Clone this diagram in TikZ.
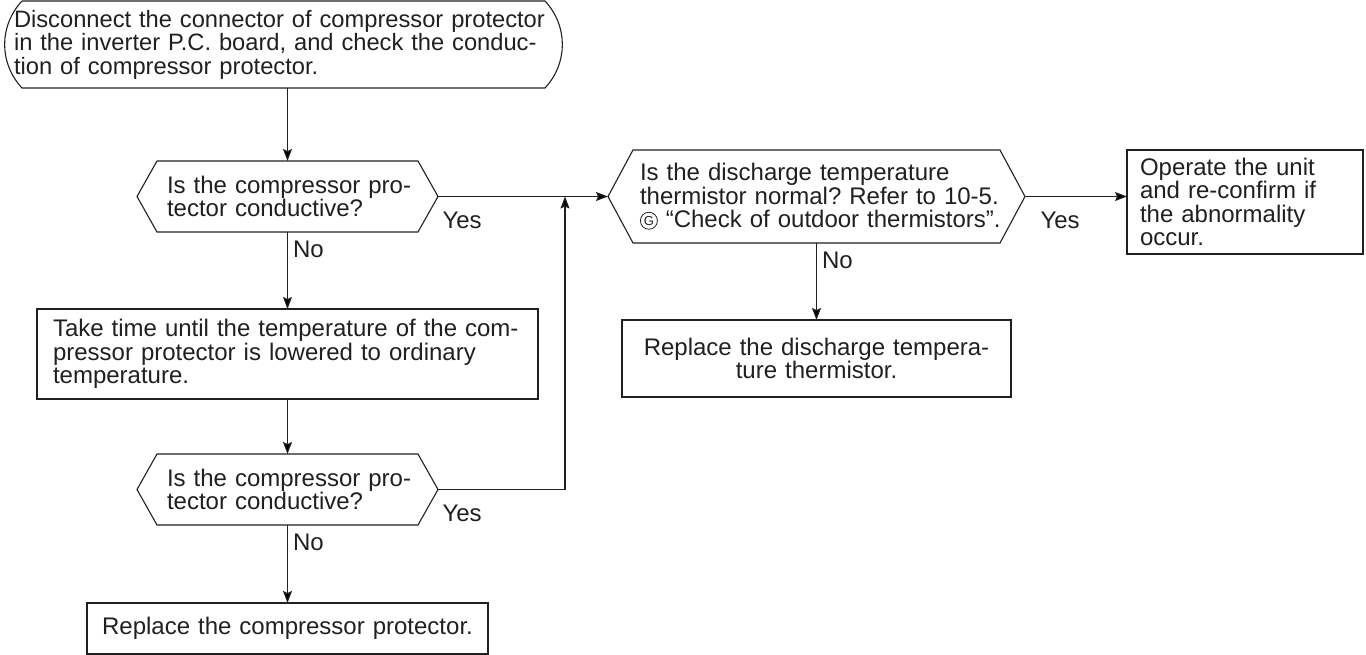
\documentclass[tikz,border=0pt]{standalone}
\usepackage{fontspec}
\setmainfont{Liberation Sans}
\usetikzlibrary{arrows.meta,calc}
\definecolor{ink}{RGB}{35,31,32}
\newcommand\li[1]{\mbox{#1}}
\newcommand\circG{\tikz[baseline={([yshift=1.5pt]g.south)}]\node[draw=ink,circle,inner sep=0pt,minimum size=17pt,line width=0.8pt,font=\fontsize{13}{13}\selectfont,text=ink](g){G};}
\newcommand\hexo[2]{\draw[outl] ([xshift=#2]#1.north west) -- ([xshift=-#2]#1.north east) -- (#1.east) -- ([xshift=-#2]#1.south east) -- ([xshift=#2]#1.south west) -- (#1.west) -- cycle;}
\tikzset{
  blk/.style={rectangle, outer sep=0pt, inner ysep=0pt, font=\fontsize{24}{23.5}\selectfont, text=ink},
  thinbox/.style={blk, draw=ink, line width=1.1pt},
  thickbox/.style={blk, draw=ink, line width=2.6pt},
  outl/.style={draw=ink, line width=1.1pt},
  arr/.style={draw=ink, line width=1.1pt, -{Stealth[length=12pt,width=9pt,inset=2pt]}},
  nolab/.style={pos=0, anchor=north west, inner sep=0pt, xshift=5pt, yshift=-8pt, font=\fontsize{24}{24}\selectfont, text=ink},
  yeslab/.style={pos=0, anchor=north west, inner sep=0pt, xshift=4pt, yshift=-15pt, font=\fontsize{24}{24}\selectfont, text=ink}
}
\begin{document}
\frenchspacing
\begin{tikzpicture}[x=1pt,y=-1pt]
\useasboundingbox (0,0) rectangle (1366,655);
% terminal
\node[blk, font=\fontsize{23.7}{23.5}\selectfont, text width=539pt, inner xsep=10pt, minimum height=87pt, align=left] (term) at (283.5,44.5)
  {\li{Disconnect the connector of compressor protector}\\\li{in the inverter P.C. board, and check the conduc-}\\\li{tion of compressor protector.}};
\draw[outl] ([xshift=18pt]term.north west) -- ([xshift=-18pt]term.north east)
  to[bend left=43] ([xshift=-18pt]term.south east) -- ([xshift=18pt]term.south west)
  to[bend left=43] ([xshift=18pt]term.north west);
% decisions
\node[blk, text width=241pt, inner xsep=30pt, minimum height=71pt, align=left] (d1) at (287.5,196.5)
  {\li{Is the compressor pro-}\\\li{tector conductive?}};
\hexo{d1}{20pt}
\node[blk, text width=241pt, inner xsep=30pt, minimum height=71pt, align=left] (d2) at (287.5,489.5)
  {\li{Is the compressor pro-}\\\li{tector conductive?}};
\hexo{d2}{20pt}
\node[blk, text width=353pt, inner xsep=32pt, minimum height=93pt, align=left] (d3) at (816.5,196.5)
  {\li{Is the discharge temperature}\\\li{thermistor normal? Refer to 10-5.}\\\li{\circG\ “Check of outdoor thermistors”.}};
\hexo{d3}{25pt}
% boxes
\node[thinbox, text width=469pt, inner xsep=16pt, minimum height=90pt, align=left] (box2) at (287.5,354)
  {\li{Take time until the temperature of the com-}\\\li{pressor protector is lowered to ordinary}\\\li{temperature.}};
\node[thickbox, text width=385pt, inner xsep=8pt, minimum height=51pt, align=center] (fin) at (287.5,628.5)
  {Replace the compressor protector.};
\node[thinbox, text width=369pt, inner xsep=10pt, minimum height=77pt, align=center] (box5) at (816.5,358.5)
  {\li{Replace the discharge tempera-}\\\li{ture thermistor.}};
\node[thickbox, text width=210pt, inner xsep=13pt, minimum height=104pt, align=left] (box4) at (1245,202)
  {\li{Operate the unit}\\\li{and re-confirm if}\\\li{the abnormality}\\\li{occur.}};
% connectors
\coordinate (j) at (565,196.5);
\draw[arr] (d1.north |- term.south) -- (d1.north);
\draw[arr] (d1.south) -- node[nolab]{No} (box2.north);
\draw[arr] (box2.south) -- (d2.north);
\draw[arr] (d2.south) -- node[nolab]{No} (fin.north);
\draw[arr] (d1.east) -- node[yeslab]{Yes} (d3.west);
\draw[arr] (d2.east) -| node[yeslab]{Yes} (j);
\draw[arr] (d3.south) -- node[nolab]{No} (box5.north);
\draw[arr] (d3.east) -- node[yeslab, xshift=11pt]{Yes} (d3.east -| box4.west);
\end{tikzpicture}
\end{document}
